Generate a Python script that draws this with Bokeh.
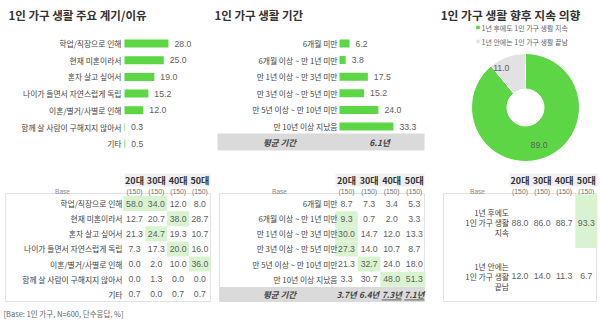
import math
from bokeh.plotting import figure
from bokeh.models import Range1d
from bokeh.core.properties import value
from bokeh.embed import file_html
from bokeh.resources import INLINE

# ---------------- data ----------------
ages = ["20대", "30대", "40대", "50대"]
age_bases = ["(150)", "(150)", "(150)", "(150)"]

reasons = ["학업/직장으로 인해", "현재 미혼이라서", "혼자 살고 싶어서",
           "나이가 들면서 자연스럽게 독립", "이혼/별거/사별로 인해",
           "함께 살 사람이 구해지지 않아서", "기타"]
reason_total = [28.0, 25.0, 19.0, 15.2, 12.0, 0.3, 0.5]
reason_20s = [58.0, 12.7, 21.3, 7.3, 0.0, 0.0, 0.7]
reason_30s = [34.0, 20.7, 24.7, 17.3, 2.0, 1.3, 0.0]
reason_40s = [12.0, 38.0, 19.3, 20.0, 10.0, 0.0, 0.7]
reason_50s = [8.0, 28.7, 10.7, 16.0, 36.0, 0.0, 0.7]
reason_highlight = [(0, 0), (0, 1), (1, 2), (2, 1), (3, 2), (4, 3)]  # (row, age)

durations = ["6개월 미만", "6개월 이상 ~ 만 1년 미만", "만 1년 이상 ~ 만 3년 미만",
             "만 3년 이상 ~ 만 5년 미만", "만 5년 이상 ~ 만 10년 미만", "만 10년 이상 지났음"]
duration_total = [6.2, 3.8, 17.5, 15.2, 24.0, 33.3]
duration_20s = [8.7, 9.3, 30.0, 27.3, 21.3, 3.3]
duration_30s = [7.3, 0.7, 14.7, 14.0, 32.7, 30.7]
duration_40s = [3.4, 2.0, 12.0, 10.7, 24.0, 48.0]
duration_50s = [5.3, 3.3, 13.3, 8.7, 18.0, 51.3]
duration_highlight = [(1, 0), (2, 0), (3, 0), (4, 1), (5, 2), (5, 3)]
avg_label = "평균 기간"
avg_total = "6.1년"
avg_by_age = ["3.7년", "6.4년", "7.3년", "7.1년"]
avg_underlined = [False, False, True, True]

intent = ["1년 후에도 1인 가구 생활 지속", "1년 안에는 1인 가구 생활 끝남"]
intent_table_labels = ["1년 후에도\n1인 가구 생활\n지속", "1년 안에는\n1인 가구 생활\n끝남"]
intent_total = [89.0, 11.0]
intent_20s = [88.0, 12.0]
intent_30s = [86.0, 14.0]
intent_40s = [88.7, 11.3]
intent_50s = [93.3, 6.7]
intent_highlight = [(0, 3)]

titles = ["1인 가구 생활 주요 계기/이유", "1인 가구 생활 기간", "1인 가구 생활 향후 지속 의향"]
footnote = "[Base: 1인 가구, N=600, 단수응답, %]"

# ---------------- style ----------------
GREEN = "#5dd646"
LIGHT = "#d9f3d0"
GREY_SLICE = "#e2e2e2"
BAND = "#dadada"
HEAD_BG = "#efefef"
TXT = "#444444"
VAL = "#606060"
LBL = "7.8px"
KR = value("Noto Sans CJK KR")
NUM = value("Liberation Sans")

W, H = 600, 325
p = figure(width=W, height=H, x_range=Range1d(0, W), y_range=Range1d(0, H),
           output_backend="svg", toolbar_location=None, min_border=0)
p.axis.visible = False
p.grid.visible = False
p.outline_line_color = None
p.background_fill_color = "white"
p.border_fill_color = "white"


def Y(t):
    return H - t


def ktext(x, y, t, size=LBL, color=TXT, align="left", style="normal", font=KR, **kw):
    p.text(x=x, y=y, text=t, text_font=font, text_font_size=size, text_color=color,
           text_align=align, text_baseline="middle", text_font_style=style, **kw)


# titles
ktext([8], [Y(14)], [titles[0]], size="11.5px", color="#333333", style="bold")
ktext([214], [Y(14)], [titles[1]], size="11.5px", color="#333333", style="bold")
ktext([510], [Y(14)], [titles[2]], size="11.8px", color="#333333", style="bold", align="center")

# ---------------- bar panels ----------------
def bar_panel(labels, vals, x0, scale, row0, dy, label_x):
    ys = [Y(row0 + i * dy) for i in range(len(vals))]
    rights = [x0 + v * scale for v in vals]
    p.hbar(y=ys, left=x0, right=rights, height=8, fill_color=GREEN, line_color=None)
    ktext([label_x] * len(labels), ys, labels, align="right")
    ktext([r + 6 for r in rights], ys, [f"{v:.1f}" for v in vals], size="8.7px",
          color=VAL, font=NUM)


bar_panel(reasons, reason_total, 124, 1.57, 43, 16.7, 121)
bar_panel(durations, duration_total, 339, 1.62, 43, 16.6, 337)

# average band (panel 2)
p.quad(left=217, right=424, top=Y(133), bottom=Y(150), fill_color=BAND, line_color=None)
ktext([279], [Y(141.5)], [avg_label], size="8.5px", color="#444444", style="bold italic", align="center")
ktext([379], [Y(141.5)], [avg_total], size="8.5px", color="#444444", style="bold italic", align="center")

# ---------------- donut ----------------
cx, cy, r_in, r_out = 525, Y(107), 18.5, 54
colors = [GREEN, GREY_SLICE]
start = math.pi / 2
for v, c in zip(intent_total, colors):
    span = 2 * math.pi * v / sum(intent_total)
    end = start - span
    p.annular_wedge(x=[cx], y=[cy], inner_radius=r_in, outer_radius=r_out,
                    start_angle=start, end_angle=end, direction="clock",
                    fill_color=c, line_color="white", line_width=1)
    mid = start - span / 2
    rl = 40 if v > 50 else 42
    lx = cx + rl * math.cos(mid) - (0 if v > 50 else 10)
    ly = cy + rl * math.sin(mid)
    ktext([lx], [ly], [f"{v:.1f}"], size="8.7px", color=VAL, font=NUM, align="center")
    start = end

# legend
for i, (lab, c) in enumerate(zip(intent, colors)):
    yy = Y(27 + i * 14)
    p.scatter(x=[477.5], y=[yy], marker="square", size=3.5, fill_color=c, line_color=None)
    ktext([481], [yy], [lab], size="7px", color="#666666")

# ---------------- tables ----------------
ROW0, RH = 203, 15.15


def table_header(col_x, strip_l, strip_r, base_x):
    p.quad(left=strip_l, right=strip_r, top=Y(173), bottom=Y(186), fill_color=HEAD_BG, line_color=None)
    ktext(col_x, [Y(179.5)] * 4, ages, size="9px", color="#333333", style="bold", align="center")
    ktext(col_x, [Y(191)] * 4, age_bases, size="6.8px", color="#777777", align="center", font=NUM)
    ktext([base_x], [Y(191)], ["Base"], size="6.5px", color="#888888", align="center", font=NUM)


def table_box(l, r, t, b):
    p.quad(left=l, right=r, top=Y(t), bottom=Y(b), fill_color="white", line_color="#e3e3e3", line_width=1)


# table 1
col1 = [134 + i * 21.8 for i in range(4)]
table_box(5, 210, 193, 301)
table_header(col1, 124, 210, 62)
for (ri, ci) in reason_highlight:
    p.quad(left=col1[ci] - 11, right=col1[ci] + 11, top=Y(ROW0 + ri * RH - 7.5),
           bottom=Y(ROW0 + ri * RH + 7.5), fill_color=LIGHT, line_color=None)
rys = [Y(ROW0 + i * RH) for i in range(len(reasons))]
ktext([122] * len(reasons), rys, reasons, align="right")
for ci, series in enumerate([reason_20s, reason_30s, reason_40s, reason_50s]):
    ktext([col1[ci]] * len(series), rys, [f"{v:.1f}" for v in series], size="8.7px",
          color=VAL, font=NUM, align="center")

# table 2
col2 = [346 + i * 22.6 for i in range(4)]
table_box(219, 424, 193, 301)
table_header(col2, 335, 424, 279)
for (ri, ci) in duration_highlight:
    p.quad(left=col2[ci] - 11.3, right=col2[ci] + 11.3, top=Y(ROW0 + ri * RH - 7.5),
           bottom=Y(ROW0 + ri * RH + 7.5), fill_color=LIGHT, line_color=None)
dys = [Y(ROW0 + i * RH) for i in range(len(durations))]
ktext([337] * len(durations), dys, durations, align="right")
for ci, series in enumerate([duration_20s, duration_30s, duration_40s, duration_50s]):
    ktext([col2[ci]] * len(series), dys, [f"{v:.1f}" for v in series], size="8.7px",
          color=VAL, font=NUM, align="center")
avg_y = ROW0 + len(durations) * RH
p.quad(left=219, right=424, top=Y(avg_y - 7.5), bottom=Y(avg_y + 7.5), fill_color=BAND, line_color=None)
ktext([279], [Y(avg_y)], [avg_label], size="8.5px", color="#444444", style="bold italic", align="center")
ktext(col2, [Y(avg_y)] * 4, avg_by_age, size="8.3px", color="#444444", style="bold italic", align="center")
for ci, u in enumerate(avg_underlined):
    if u:
        p.segment(x0=[col2[ci] - 10], x1=[col2[ci] + 10], y0=[Y(avg_y + 5.5)], y1=[Y(avg_y + 5.5)],
                  line_color="#444444", line_width=0.8)

# table 3
col3 = [519.5 + i * 22.1 for i in range(4)]
table_box(443, 596, 193, 301)
table_header(col3, 509, 597, 477)
IR0, IRH = 194, 53.5
for (ri, ci) in intent_highlight:
    p.quad(left=col3[ci] - 11, right=col3[ci] + 11, top=Y(IR0 + ri * IRH),
           bottom=Y(IR0 + (ri + 1) * IRH), fill_color=LIGHT, line_color=None)
iys = [Y(IR0 + (i + 0.5) * IRH + 1.5) for i in range(len(intent))]
ktext([508.5] * len(intent), iys, intent_table_labels, align="right", text_line_height=0.92)
for ci, series in enumerate([intent_20s, intent_30s, intent_40s, intent_50s]):
    ktext([col3[ci]] * len(series), iys, [f"{v:.1f}" for v in series], size="8.7px",
          color=VAL, font=NUM, align="center")

# footnote
ktext([3], [Y(313)], [footnote], size="7.5px", color="#666666")

open("out.html", "w").write(file_html(p, INLINE))
